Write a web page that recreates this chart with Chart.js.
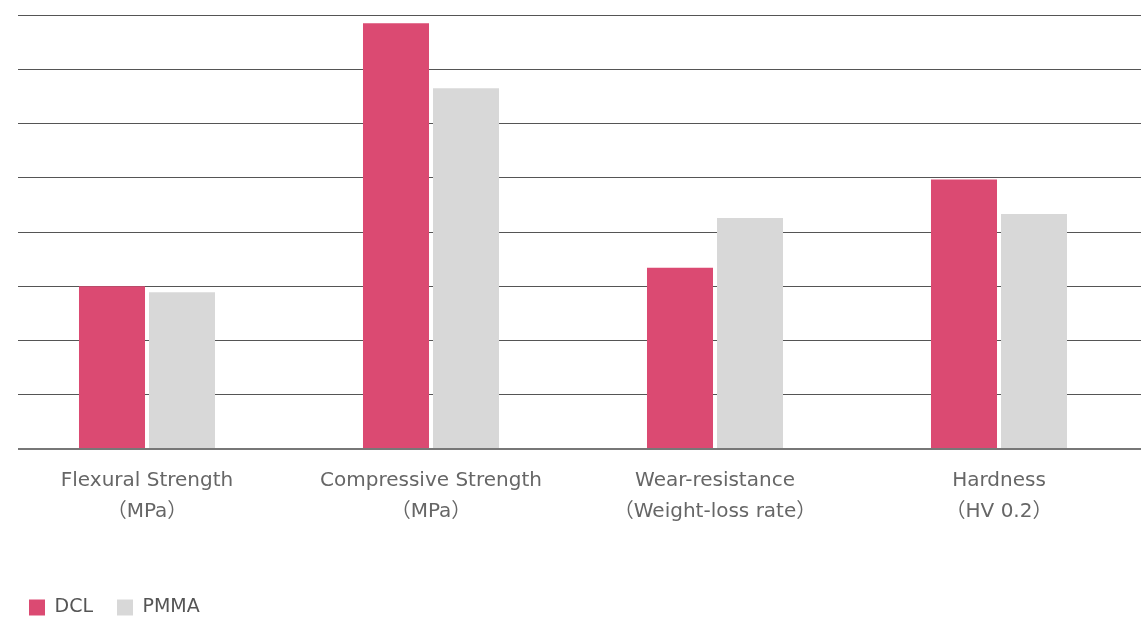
<!DOCTYPE html>
<html>
<head>
<meta charset="utf-8">
<script src="https://cdn.jsdelivr.net/npm/chart.js@4"></script>
<style>
  html, body { margin: 0; padding: 0; background: #fff; }
  #wrap { width: 1141px; height: 618px; }
</style>
</head>
<body>
<div id="wrap"><canvas id="myChart"></canvas></div>
<script>
// categories and values
var labels = [
  ['Flexural Strength', '（MPa）'],
  ['Compressive Strength', '（MPa）'],
  ['Wear-resistance', '（Weight-loss rate）'],
  ['Hardness', '（HV 0.2）']
];
var dclValues = [3.0, 7.85, 3.34, 4.97];
var pmmaValues = [2.89, 6.65, 4.26, 4.33];

var fontFamily = '"DejaVu Sans", "Noto Sans CJK SC", sans-serif';

// legend sits low, close to the bottom edge
var legendHeight = {
  id: 'legendHeight',
  afterInit: function(chart) {
    var fit = chart.legend.fit;
    chart.legend.fit = function() {
      fit.call(this);
      this.height = 44;
    };
  }
};

// grid lines start a little right of the chart's left edge
var gridStart = {
  id: 'gridStart',
  beforeDatasetsDraw: function(chart) {
    var a = chart.chartArea;
    var c = chart.ctx;
    c.save();
    c.fillStyle = '#fff';
    c.fillRect(a.left - 2, a.top - 3, 15, a.bottom - a.top + 6);
    c.restore();
  }
};

var ctx = document.getElementById('myChart').getContext('2d');
var myChart = new Chart(ctx, {
  type: 'bar',
  data: {
    labels: labels,
    datasets: [{
      label: 'DCL',
      data: dclValues,
      backgroundColor: '#db4a72',
      categoryPercentage: 0.493,
      barPercentage: 0.943
    }, {
      label: 'PMMA',
      data: pmmaValues,
      backgroundColor: '#d8d8d8',
      categoryPercentage: 0.493,
      barPercentage: 0.943
    }]
  },
  plugins: [legendHeight, gridStart],
  options: {
    responsive: true,
    maintainAspectRatio: false,
    animation: false,
    layout: { padding: { top: 15, left: 5, right: 0, bottom: 0 } },
    plugins: {
      tooltip: { enabled: false },
      legend: {
        position: 'bottom',
        align: 'start',
        labels: {
          boxWidth: 16,
          boxHeight: 16,
          padding: 24,
          color: '#555',
          font: { family: fontFamily, size: 19 }
        }
      }
    },
    scales: {
      x: {
        grid: { display: false },
        border: { display: false },
        afterFit: function(scale) { scale.height = 125; },
        ticks: {
          color: '#666',
          padding: 8,
          maxRotation: 0,
          font: { family: fontFamily, size: 20, lineHeight: 1.55 }
        }
      },
      y: {
        min: 0,
        max: 8,
        ticks: { display: false, stepSize: 1 },
        border: { display: false },
        grid: {
          drawTicks: false,
          color: function(c) { return c.tick.value === 0 ? '#777' : '#555'; },
          lineWidth: function(c) { return c.tick.value === 0 ? 2 : 1; }
        }
      }
    }
  }
});
</script>
</body>
</html>
